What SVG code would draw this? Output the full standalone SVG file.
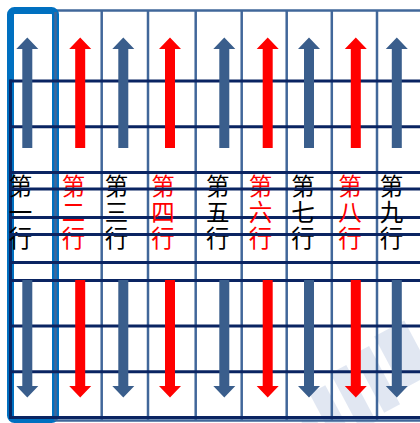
<svg xmlns="http://www.w3.org/2000/svg" xmlns:xlink="http://www.w3.org/1999/xlink" width="420" height="423" viewBox="0 0 420 423">
<style>
.sb{stroke:#41679a;stroke-width:2.5;fill:none}
.nv{stroke:#0a2462;stroke-width:3;fill:none}
.lbl{font-family:"Noto Sans CJK SC","Noto Sans CJK JP",sans-serif;font-size:23.5px;text-anchor:middle}
.blk{fill:#000}
.red{fill:#ff0000}
.ab{fill:#3a5e8c}
.ar{fill:#ff0000}
.wm{fill:#a9badb;opacity:0.35}
</style>
<defs>
<path id="up" d="M-5,148V49H-11L0,37.5L11,49H5V148Z"/>
<path id="dn" d="M-5,280V386H-11L0,397.5L11,386H5V280Z"/>
</defs>
<rect width="420" height="423" fill="#fff"/>
<g id="watermark">
<g transform="rotate(-28 360 395)">
<rect class="wm" x="280" y="390" width="16" height="54" transform="rotate(35 289 417)"/>
<rect class="wm" x="280" y="390" width="16" height="54" transform="rotate(-35 289 417)"/>
<rect class="wm" x="316" y="370" width="18" height="64"/>
<rect class="wm" x="344" y="362" width="18" height="64"/>
<rect class="wm" x="373" y="356" width="18" height="66"/>
<rect class="wm" x="400" y="350" width="34" height="60"/>
</g>
</g>
<g id="grid">
<line class="sb" x1="55" y1="10.5" x2="420" y2="10.5"/>
<line class="sb" x1="55" y1="420.5" x2="420" y2="420.5"/>
<line class="sb" x1="101.7" y1="10" x2="101.7" y2="421"/>
<line class="sb" x1="148" y1="10" x2="148" y2="421"/>
<line class="sb" x1="195.7" y1="10" x2="195.7" y2="421"/>
<line class="sb" x1="241.7" y1="10" x2="241.7" y2="421"/>
<line class="sb" x1="286.7" y1="10" x2="286.7" y2="421"/>
<line class="sb" x1="331.8" y1="10" x2="331.8" y2="421"/>
<line class="sb" x1="377" y1="10" x2="377" y2="421"/>
<rect x="10.5" y="10.5" width="45" height="409" rx="4" fill="none" stroke="#0070c0" stroke-width="7"/>
<line class="sb" x1="55.5" y1="12" x2="55.5" y2="421"/>
</g>
<g id="gridA">
<line class="nv" x1="10" y1="81" x2="420" y2="81"/>
<line class="nv" x1="10" y1="126.7" x2="420" y2="126.7"/>
<line class="nv" x1="10" y1="172.4" x2="420" y2="172.4"/>
<line class="nv" x1="10" y1="217.5" x2="420" y2="217.5"/>
<line class="nv" x1="10" y1="262.5" x2="420" y2="262.5"/>
<line class="nv" x1="10.5" y1="79.5" x2="10.5" y2="418"/>
</g>
<g id="col1"><text class="lbl blk" x="20.5"><tspan x="20.5" y="195">第</tspan><tspan x="20.5" y="221">一</tspan><tspan x="20.5" y="247">行</tspan></text></g>
<g id="col2"><text class="lbl red" x="73.5"><tspan x="73.5" y="195">第</tspan><tspan x="73.5" y="221">二</tspan><tspan x="73.5" y="247">行</tspan></text></g>
<g id="col3"><text class="lbl blk" x="116.5"><tspan x="116.5" y="195">第</tspan><tspan x="116.5" y="221">三</tspan><tspan x="116.5" y="247">行</tspan></text></g>
<g id="col4"><text class="lbl red" x="163"><tspan x="163" y="195">第</tspan><tspan x="163" y="221">四</tspan><tspan x="163" y="247">行</tspan></text></g>
<g id="col5"><text class="lbl blk" x="217.7"><tspan x="217.7" y="195">第</tspan><tspan x="217.7" y="221">五</tspan><tspan x="217.7" y="247">行</tspan></text></g>
<g id="col6"><text class="lbl red" x="260.5"><tspan x="260.5" y="195">第</tspan><tspan x="260.5" y="221">六</tspan><tspan x="260.5" y="247">行</tspan></text></g>
<g id="col7"><text class="lbl blk" x="303"><tspan x="303" y="195">第</tspan><tspan x="303" y="221">七</tspan><tspan x="303" y="247">行</tspan></text></g>
<g id="col8"><text class="lbl red" x="350"><tspan x="350" y="195">第</tspan><tspan x="350" y="221">八</tspan><tspan x="350" y="247">行</tspan></text></g>
<g id="col9"><text class="lbl blk" x="391.5"><tspan x="391.5" y="195">第</tspan><tspan x="391.5" y="221">九</tspan><tspan x="391.5" y="247">行</tspan></text></g>
<g id="gridB">
<line class="nv" x1="10" y1="189" x2="420" y2="189"/>
<line class="nv" x1="10" y1="234.5" x2="420" y2="234.5"/>
<line class="nv" x1="10" y1="280.4" x2="420" y2="280.4"/>
<line class="nv" x1="10" y1="326.1" x2="420" y2="326.1"/>
<line class="nv" x1="10" y1="371.8" x2="420" y2="371.8"/>
<line class="nv" x1="9" y1="417.5" x2="420" y2="417.5"/>
</g>
<g id="connectors">
<use xlink:href="#up" class="ab" x="27.3"/>
<use xlink:href="#up" class="ar" x="80.2"/>
<use xlink:href="#up" class="ab" x="123.3"/>
<use xlink:href="#up" class="ar" x="170"/>
<use xlink:href="#up" class="ab" x="224.3"/>
<use xlink:href="#up" class="ar" x="267.7"/>
<use xlink:href="#up" class="ab" x="309"/>
<use xlink:href="#up" class="ar" x="355.8"/>
<use xlink:href="#up" class="ab" x="396.8"/>
<use xlink:href="#dn" class="ab" x="27.3"/>
<use xlink:href="#dn" class="ar" x="80.2"/>
<use xlink:href="#dn" class="ab" x="123.3"/>
<use xlink:href="#dn" class="ar" x="170"/>
<use xlink:href="#dn" class="ab" x="224.3"/>
<use xlink:href="#dn" class="ar" x="267.7"/>
<use xlink:href="#dn" class="ab" x="309"/>
<use xlink:href="#dn" class="ar" x="355.8"/>
<use xlink:href="#dn" class="ab" x="396.8"/>
</g>
</svg>
